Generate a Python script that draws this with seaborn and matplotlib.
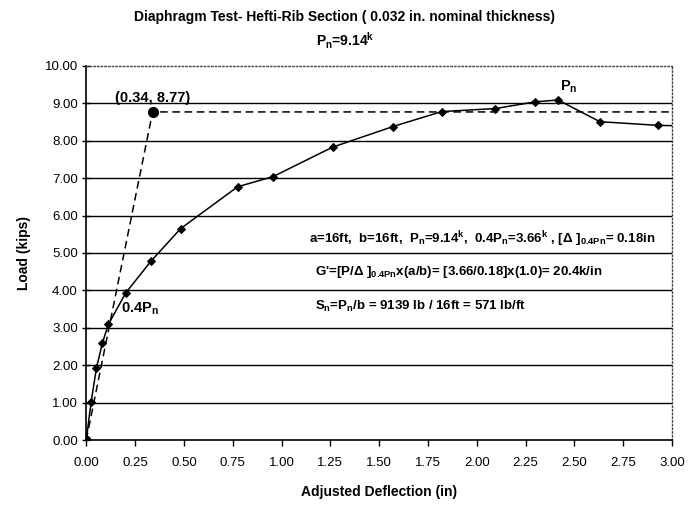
import numpy as np
import pandas as pd
import seaborn as sns
import matplotlib
matplotlib.use('Agg')
import matplotlib.pyplot as plt

# test curve
deflection = [0.0, 0.025, 0.052, 0.083, 0.113, 0.203, 0.333, 0.483, 0.775, 0.956,
              1.262, 1.571, 1.821, 2.095, 2.30, 2.416, 2.63, 2.93, 3.05]
load = [0.0, 1.02, 1.92, 2.60, 3.09, 3.94, 4.79, 5.65, 6.77, 7.04,
        7.83, 8.38, 8.78, 8.86, 9.04, 9.09, 8.51, 8.41, 8.40]

# idealized bilinear line
ideal_x = [0.0, 0.34, 3.0]
ideal_y = [0.0, 8.77, 8.77]

x_ticks = [0.0, 0.25, 0.5, 0.75, 1.0, 1.25, 1.5, 1.75, 2.0, 2.25, 2.5, 2.75, 3.0]
y_ticks = [0, 1, 2, 3, 4, 5, 6, 7, 8, 9, 10]

sns.set_theme(style='white')
plt.rcParams['font.family'] = ['Liberation Sans', 'DejaVu Sans']
plt.rcParams['text.color'] = 'black'
plt.rcParams['axes.labelcolor'] = 'black'
plt.rcParams['xtick.color'] = 'black'
plt.rcParams['ytick.color'] = 'black'
plt.rcParams['mathtext.fontset'] = 'custom'
plt.rcParams['mathtext.rm'] = 'Liberation Sans'
plt.rcParams['mathtext.bf'] = 'Liberation Sans:bold'
plt.rcParams['mathtext.default'] = 'bf'

fig = plt.figure(figsize=(6.9, 5.07), dpi=100)
ax = fig.add_axes([0.125, 0.132, 0.849, 0.738])

curve = pd.DataFrame({'x': deflection, 'y': load})
ideal = pd.DataFrame({'x': ideal_x, 'y': ideal_y})

sns.lineplot(data=ideal, x='x', y='y', ax=ax, color='black', lw=1.1,
             linestyle=(0, (5, 3)), sort=False, estimator=None, zorder=3)
sns.lineplot(data=curve, x='x', y='y', ax=ax, color='black', lw=1.1,
             marker='D', markersize=4.5, markeredgecolor='black',
             sort=False, estimator=None, zorder=4)
ax.plot(ideal_x[1], ideal_y[1], 'o', color='black', markersize=7, zorder=5)
ax.plot(0, 0, 'o', color='black', markersize=6, zorder=5)

ax.set_xlim(0, 3.0)
ax.set_ylim(0, 10)
ax.set_xticks(x_ticks)
ax.set_yticks(y_ticks)
ax.set_xticklabels(['%.2f' % v for v in x_ticks], fontsize=9.5)
ax.set_yticklabels(['%.2f' % v for v in y_ticks], fontsize=9.5)
ax.tick_params(axis='x', direction='out', length=4, width=1, pad=8)
ax.tick_params(axis='y', direction='inout', length=6, width=1, pad=3)
ax.tick_params(bottom=True, left=True)

for yv in y_ticks[1:-1]:
    ax.axhline(yv, color='black', lw=1.0, zorder=1)

ax.spines['left'].set_color('black')
ax.spines['bottom'].set_color('black')
ax.spines['left'].set_linewidth(1.2)
ax.spines['bottom'].set_linewidth(1.2)
for s in ['top', 'right']:
    ax.spines[s].set_linestyle(':')
    ax.spines[s].set_color('#444444')
    ax.spines[s].set_linewidth(1.0)

ax.set_xlabel('Adjusted Deflection (in)', fontsize=10, fontweight='bold', labelpad=12)
ax.set_ylabel('Load (kips)', fontsize=10, fontweight='bold', labelpad=10)

fig.text(0.5, 0.966, 'Diaphragm Test- Hefti-Rib Section ( 0.032 in. nominal thickness)',
         ha='center', va='center', fontsize=10, fontweight='bold')
fig.text(0.5, 0.92, r'P$_{n}$=9.14$^{k}$', ha='center', va='center',
         fontsize=10, fontweight='bold')

ax.text(0.34, 9.15, '(0.34, 8.77)', ha='center', va='center', fontsize=10.5, fontweight='bold')
ax.text(2.47, 9.45, r'P$_{n}$', ha='center', va='center', fontsize=10.5, fontweight='bold')
ax.text(0.18, 3.5, r'0.4P$_{n}$', ha='left', va='center', fontsize=10.5, fontweight='bold')

ax.text(1.14, 5.37, r'a=16ft,  b=16ft,  P$_{n}$=9.14$^{k}$,  0.4P$_{n}$=3.66$^{k}$ , [Δ ]$_{0.4Pn}$= 0.18in',
        ha='left', va='center', fontsize=9.5, fontweight='bold')
ax.text(1.17, 4.48, r"G'=[P/Δ ]$_{0.4Pn}$x(a/b)= [3.66/0.18]x(1.0)= 20.4k/in",
        ha='left', va='center', fontsize=9.5, fontweight='bold')
ax.text(1.17, 3.58, r'S$_{n}$=P$_{n}$/b = 9139 lb / 16ft = 571 lb/ft',
        ha='left', va='center', fontsize=9.5, fontweight='bold')

fig.savefig('out.png', dpi=100)
